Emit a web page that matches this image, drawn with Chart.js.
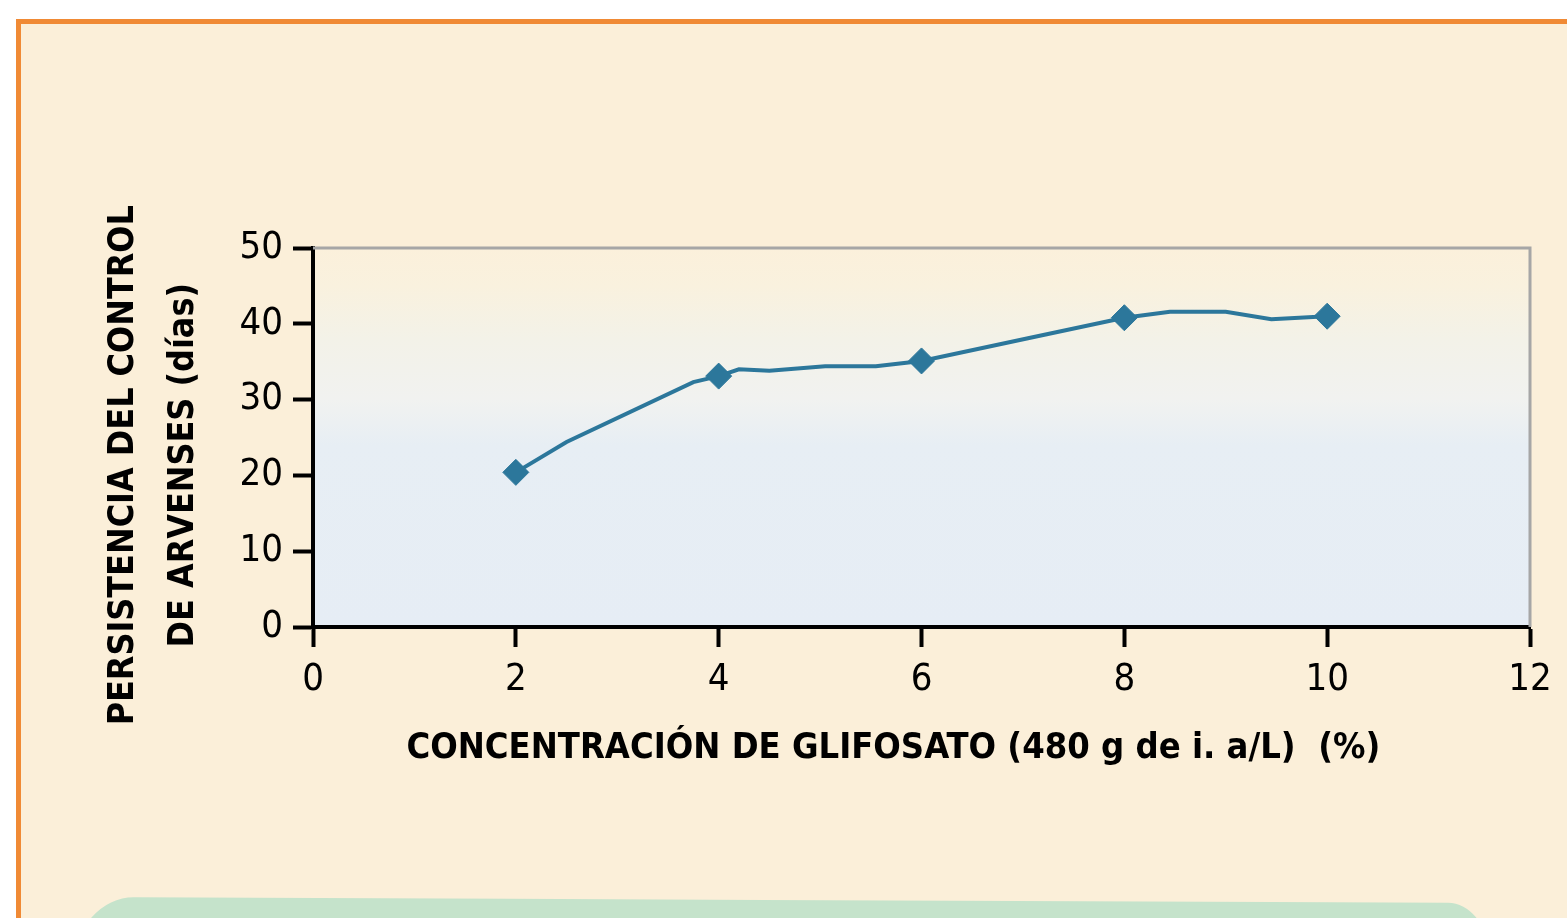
<!DOCTYPE html>
<html>
<head>
<meta charset="utf-8">
<script src="https://cdn.jsdelivr.net/npm/chart.js@4"></script>
<style>
  html, body { margin: 0; padding: 0; background: #ffffff; overflow: hidden; }
  #marco {
    position: absolute; left: 16px; top: 19px; width: 1600px; height: 950px;
    background: #FBEFD9; border-left: 5px solid #F08A35; border-top: 5px solid #F08A35;
  }
  #caja {
    position: absolute; left: 74px; top: 897px; width: 1414px; height: 120px;
    background: #C5E3CB; border-radius: 60px 40px 0 0 / 70px 50px 0 0;
    transform: rotate(0.24deg); transform-origin: left top;
  }
  #grafico { position: absolute; left: 0; top: 0; }
</style>
</head>
<body>
<div id="marco"></div>
<div id="caja"></div>
<canvas id="grafico" width="1567" height="918"></canvas>
<script>
// datos
const concX = [2, 2.5, 3.75, 4, 4.2, 4.5, 5.05, 5.55, 6, 7.05, 8, 8.45, 9, 9.45, 10];
const persistencia = [20.4, 24.4, 32.3, 33.1, 34.0, 33.8, 34.4, 34.4, 35.1, 38.1, 40.8, 41.6, 41.6, 40.6, 41.0];
const puntosMarcados = [2, 4, 6, 8, 10];
const ticksX = [0, 2, 4, 6, 8, 10, 12];
const ticksY = [0, 10, 20, 30, 40, 50];

const tituloX = 'CONCENTRACIÓN DE GLIFOSATO (480 g de i. a/L)  (%)';
const tituloY = ['PERSISTENCIA DEL CONTROL', 'DE ARVENSES (días)'];

const azul = '#2C779B';

// fondo degradado del area y bordes gris arriba/derecha
const fondoArea = {
  id: 'fondoArea',
  beforeDraw(chart) {
    const { ctx, chartArea: a } = chart;
    const g = ctx.createLinearGradient(0, a.bottom, 0, a.top);
    g.addColorStop(0, '#E6EDF5');
    g.addColorStop(0.48, '#E7EEF4');
    g.addColorStop(0.6, '#F1F2F0');
    g.addColorStop(0.76, '#F3F2E8');
    g.addColorStop(0.9, '#F9F1DE');
    g.addColorStop(1, '#FBF0DB');
    ctx.save();
    ctx.fillStyle = g;
    ctx.fillRect(a.left, a.top, a.right - a.left, a.bottom - a.top);
    ctx.restore();
  },
  afterDraw(chart) {
    const { ctx, chartArea: a } = chart;
    ctx.save();
    ctx.strokeStyle = '#A6A6A6';
    ctx.lineWidth = 3;
    ctx.beginPath();
    ctx.moveTo(a.left, a.top);
    ctx.lineTo(a.right, a.top);
    ctx.lineTo(a.right, a.bottom);
    ctx.stroke();
    ctx.restore();
  }
};

const ctx = document.getElementById('grafico');
new Chart(ctx, {
  type: 'line',
  data: {
    datasets: [{
      data: concX.map((x, i) => ({ x: x, y: persistencia[i] })),
      borderColor: azul,
      backgroundColor: azul,
      borderWidth: 4,
      pointStyle: 'rectRot',
      pointRadius: concX.map(x => puntosMarcados.includes(x) ? 13 : 0),
      pointBorderWidth: 1,
      tension: 0
    }]
  },
  options: {
    responsive: false,
    animation: false,
    layout: { padding: { top: 248, right: 37, bottom: 0, left: 0 } },
    plugins: { legend: { display: false }, tooltip: { enabled: false } },
    scales: {
      x: {
        type: 'linear',
        min: 0, max: 12,
        afterBuildTicks: s => { s.ticks = ticksX.map(v => ({ value: v })); },
        afterFit: s => { s.height = 291; },
        border: { color: '#000', width: 4 },
        grid: { drawOnChartArea: false, tickLength: 20, tickColor: '#000', tickWidth: 4 },
        ticks: { color: '#000', padding: 10, maxRotation: 0,
                 font: { family: 'DejaVu Sans Condensed', size: 38 } },
        title: {
          display: true, text: tituloX + '\u00A0\u00A0\u00A0\u00A0\u00A0',
          color: '#000', padding: { bottom: 148 },
          font: { family: 'DejaVu Sans Condensed', size: 36, weight: 'bold' }
        }
      },
      y: {
        min: 0, max: 50,
        afterBuildTicks: s => { s.ticks = ticksY.map(v => ({ value: v })); },
        afterFit: s => { s.width = 313; },
        border: { color: '#000', width: 4 },
        grid: { drawOnChartArea: false, tickLength: 20, tickColor: '#000', tickWidth: 4 },
        ticks: { color: '#000', padding: 10,
                 font: { family: 'DejaVu Sans Condensed', size: 38 } },
        title: {
          display: true, text: tituloY.map(t => t + '\u00A0\u00A0\u00A0\u00A0\u00A0'),
          color: '#000', padding: { top: 94 },
          font: { family: 'DejaVu Sans Condensed', size: 35.5, weight: 'bold', lineHeight: 60 / 35.5 }
        }
      }
    }
  },
  plugins: [fondoArea]
});
</script>
</body>
</html>
